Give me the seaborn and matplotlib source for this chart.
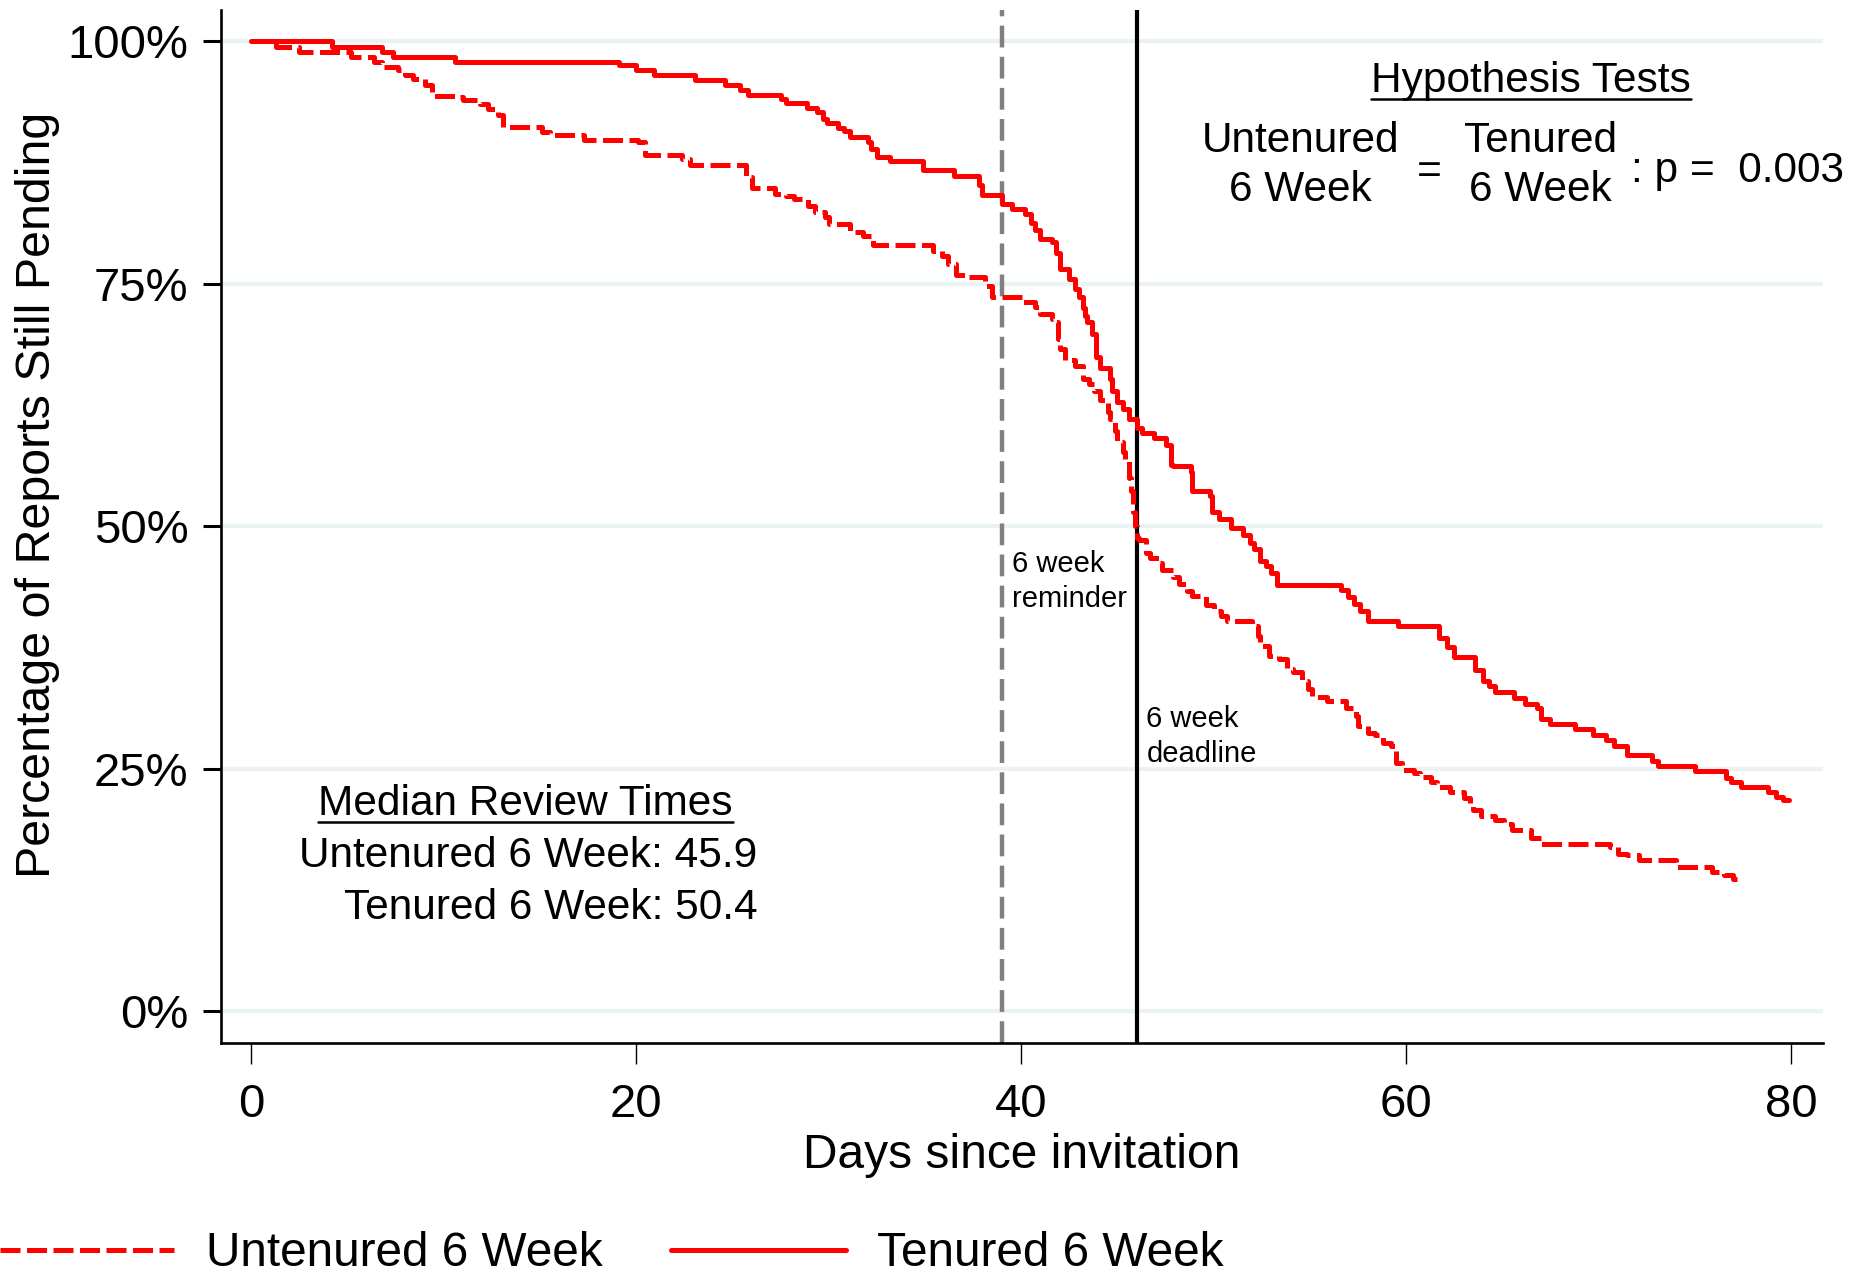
import matplotlib
matplotlib.use("Agg")
import matplotlib.pyplot as plt
from matplotlib.lines import Line2D
import seaborn as sns
import pandas as pd

# ---------------- data ----------------
tenured_days = [0, 4.2, 6.8, 7.35, 10.6, 19.1, 20.0, 20.9, 23.05, 24.6, 25.4, 25.8, 27.5, 27.8,
                28.85, 29.4, 29.7, 29.9, 30.5, 30.8, 31.1, 32.05, 32.2, 32.5, 33.2, 34.9, 36.5,
                37.8, 37.95, 39.0, 39.5, 40.2, 40.5, 40.7, 41.0, 41.6, 41.8, 42.0, 42.5, 42.8,
                43.0, 43.2, 43.3, 43.4, 43.7, 43.9, 44.1, 44.6, 44.7, 45.0, 45.3, 45.6, 46.0,
                46.3, 46.9, 47.5, 47.8, 47.9, 48.8, 48.9, 49.8, 49.9, 50.3, 50.9, 51.5, 51.9,
                52.1, 52.4, 52.7, 53.0, 53.3, 56.6, 57.0, 57.3, 57.6, 58.0, 59.6, 61.7, 62.1,
                62.5, 63.6, 64.0, 64.3, 64.6, 65.6, 66.2, 66.8, 67.0, 67.5, 68.8, 69.7, 70.4,
                70.8, 71.5, 72.8, 73.1, 75.0, 76.6, 76.9, 77.4, 78.8, 79.2, 79.6, 79.9]
tenured_pct = [100, 99.45, 98.9, 98.4, 97.9, 97.5, 97.0, 96.5, 96.0, 95.5, 95.0, 94.5, 94.0, 93.6,
               93.1, 92.7, 92.0, 91.6, 91.1, 90.7, 90.1, 89.6, 88.9, 88.1, 87.7, 86.7, 86.1,
               85.2, 84.2, 83.2, 82.7, 82.2, 81.3, 80.5, 79.6, 79.3, 78.2, 76.5, 75.5, 74.5,
               73.6, 72.5, 71.7, 71.1, 69.8, 67.5, 66.3, 65.2, 63.9, 62.8, 62.1, 61.1, 60.1,
               59.6, 59.1, 58.4, 56.3, 56.2, 55.6, 53.6, 53.1, 51.5, 50.7, 49.8, 49.1, 48.3,
               47.7, 46.4, 45.9, 45.2, 43.9, 43.4, 42.7, 42.0, 41.3, 40.2, 39.7, 38.5, 37.6,
               36.5, 35.2, 34.0, 33.5, 32.9, 32.3, 31.7, 31.3, 30.1, 29.6, 29.1, 28.5, 28.0,
               27.3, 26.4, 25.8, 25.3, 24.8, 24.1, 23.6, 23.1, 22.6, 22.1, 21.8, 21.8]

untenured_days = [0, 1.3, 2.5, 5.2, 6.35, 6.8, 7.6, 8.0, 8.4, 9.0, 9.4, 10.7, 11.0, 11.9, 12.3,
                  12.8, 13.1, 15.1, 15.5, 17.3, 20.1, 20.45, 22.4, 22.8, 25.7, 26.0, 27.2, 27.8,
                  28.2, 28.9, 29.3, 29.8, 30.0, 31.1, 31.8, 32.3, 35.4, 35.9, 36.2, 36.6, 37.1,
                  38.1, 38.5, 40.1, 40.7, 41.0, 41.6, 41.8, 41.9, 42.0, 42.3, 42.8, 43.2, 43.5,
                  43.8, 44.1, 44.5, 44.6, 44.9, 45.0, 45.3, 45.4, 45.6, 45.7, 45.8, 45.9, 46.0,
                  46.1, 46.5, 46.7, 47.2, 47.3, 47.9, 48.2, 48.6, 48.9, 49.6, 50.0, 50.4, 50.7,
                  52.0, 52.3, 52.4, 52.9, 53.4, 53.8, 54.1, 54.6, 54.9, 55.1, 55.9, 56.9, 57.4,
                  57.5, 58.0, 58.4, 58.8, 59.2, 59.5, 59.8, 60.4, 60.7, 61.3, 61.6, 62.3, 63.0,
                  63.3, 63.5, 63.9, 64.6, 65.1, 65.5, 66.5, 67.0, 70.6, 71.0, 71.5, 72.1, 74.0,
                  75.9, 76.5, 77.0, 77.2]
untenured_pct = [100, 99.45, 98.9, 98.4, 97.9, 97.3, 97.0, 96.5, 96.1, 95.5, 94.4, 94.2, 93.9, 93.5,
                 93.0, 92.4, 91.2, 90.6, 90.3, 89.85, 89.6, 88.3, 87.9, 87.2, 86.0, 84.9, 84.3,
                 84.0, 83.7, 83.0, 82.4, 81.9, 81.2, 80.3, 79.9, 79.0, 78.4, 77.9, 77.0, 75.9,
                 75.7, 74.8, 73.6, 73.1, 72.6, 71.9, 71.4, 71.1, 69.3, 68.3, 67.1, 66.5, 65.2,
                 64.7, 63.9, 63.0, 61.8, 61.1, 59.8, 58.7, 57.7, 56.7, 55.0, 53.6, 51.5, 50.0,
                 48.8, 48.6, 47.2, 46.7, 46.2, 45.5, 44.8, 44.1, 43.3, 42.8, 41.9, 41.3, 40.8,
                 40.2, 39.7, 38.7, 37.7, 36.6, 36.3, 35.3, 35.0, 34.1, 33.2, 32.4, 32.0, 31.3,
                 30.4, 29.4, 28.7, 28.5, 27.7, 27.3, 25.6, 24.9, 24.6, 24.2, 23.6, 23.1, 22.6,
                 22.0, 21.5, 20.8, 20.1, 19.7, 19.3, 18.7, 17.9, 17.2, 16.9, 16.2, 16.1, 15.6,
                 14.9, 14.4, 14.0, 13.6, 13.6]

series_labels = ["Untenured 6 Week", "Tenured 6 Week"]
reminder_day = 39
deadline_day = 46
x_ticks = [0, 20, 40, 60, 80]
y_ticks = [0, 25, 50, 75, 100]
y_tick_labels = ["0%", "25%", "50%", "75%", "100%"]
median_untenured = 45.9
median_tenured = 50.4
p_value = "0.003"

# ---------------- style ----------------
sns.set_theme(style="white")
plt.rcParams['font.family'] = ['Liberation Sans', 'DejaVu Sans']
plt.rcParams['axes.linewidth'] = 1.9
for k in ['text.color', 'axes.labelcolor', 'xtick.color', 'ytick.color', 'axes.edgecolor']:
    plt.rcParams[k] = 'black'

fig = plt.figure(figsize=(18.5, 12.74), dpi=100)
ax = fig.add_axes([0.1192, 0.1813, 0.8662, 0.8107])

df_u = pd.DataFrame({"day": untenured_days, "pct": untenured_pct})
df_t = pd.DataFrame({"day": tenured_days, "pct": tenured_pct})

# reference lines
ax.axvline(reminder_day, color="#808080", lw=3.2, ls=(0, (4.9, 2.1)), zorder=2)
ax.axvline(deadline_day, color="black", lw=3.0, zorder=2)

sns.lineplot(data=df_u, x="day", y="pct", ax=ax, color="red", lw=3.6,
             linestyle=(0, (4.0, 1.3)), drawstyle="steps-post", estimator=None,
             sort=False, label=series_labels[0], legend=False, zorder=3)
sns.lineplot(data=df_t, x="day", y="pct", ax=ax, color="red", lw=3.6,
             drawstyle="steps-post", estimator=None, sort=False,
             label=series_labels[1], legend=False, zorder=3)

ax.set_xlim(-1.6, 81.66)
ax.set_ylim(-3.27, 103.2)
ax.set_xticks(x_ticks)
ax.set_yticks(y_ticks)
ax.set_yticklabels(y_tick_labels)
ax.tick_params(axis="y", which="major", length=13, width=2.2, pad=10,
               labelsize=34, color="black", left=True)
ax.tick_params(axis="x", which="major", length=15, width=1.0, pad=14,
               labelsize=34, color="black", bottom=True)
ax.yaxis.grid(True, color="#eaf2f3", lw=3)
ax.xaxis.grid(False)
ax.set_axisbelow(True)
for s in ["top", "right"]:
    ax.spines[s].set_visible(False)

ax.set_xlabel("Days since invitation", fontsize=34.5, labelpad=4)
ax.set_ylabel("Percentage of Reports Still Pending", fontsize=34.8)
ax.yaxis.set_label_coords(-0.1, 0.531)

# annotations
ax.text(39.5, 47.6, "6 week\nreminder", fontsize=21, ha="left", va="top", linespacing=1.32)
ax.text(46.5, 31.6, "6 week\ndeadline", fontsize=21, ha="left", va="top", linespacing=1.32)

FS = 30.5
t_med = ax.text(14.24, 21.35, "Median Review Times", fontsize=FS, ha="center", va="center")
ax.text(26.3, 16.0, f"Untenured 6 Week: {median_untenured}", fontsize=FS, ha="right", va="center")
ax.text(26.3, 10.65, f"Tenured 6 Week: {median_tenured}", fontsize=FS, ha="right", va="center")

t_hyp = ax.text(66.5, 95.9, "Hypothesis Tests", fontsize=FS, ha="center", va="center")
ax.text(54.5, 87.2, "Untenured\n6 Week", fontsize=FS, ha="center", va="center", linespacing=1.29)
ax.text(61.2, 86.5, "=", fontsize=FS, ha="center", va="center")
ax.text(67.0, 87.2, "Tenured\n6 Week", fontsize=FS, ha="center", va="center", linespacing=1.29)
ax.text(71.7, 86.6, f": p =  {p_value}", fontsize=FS, ha="left", va="center", clip_on=False)

# legend below
handles = ax.get_lines()
red_lines = [h for h in handles if h.get_label() in series_labels]
fig.legend(red_lines, series_labels, loc="center left", bbox_to_anchor=(0.0, 1 - 1254 / 1274),
           bbox_transform=fig.transFigure, ncol=2, frameon=False, borderpad=0,
           borderaxespad=0, handlelength=3.65, handletextpad=0.66, columnspacing=1.44,
           fontsize=34.4)

# underlines under headings
fig.canvas.draw()
inv = fig.transFigure.inverted()
for t in [t_med, t_hyp]:
    bb = t.get_window_extent()
    (x0, y0) = inv.transform((bb.x0, bb.y0 + 2))
    (x1, _) = inv.transform((bb.x1, bb.y0 + 2))
    fig.add_artist(Line2D([x0, x1], [y0, y0], transform=fig.transFigure, color="black", lw=1.8))

fig.savefig("out.png", dpi=100)
